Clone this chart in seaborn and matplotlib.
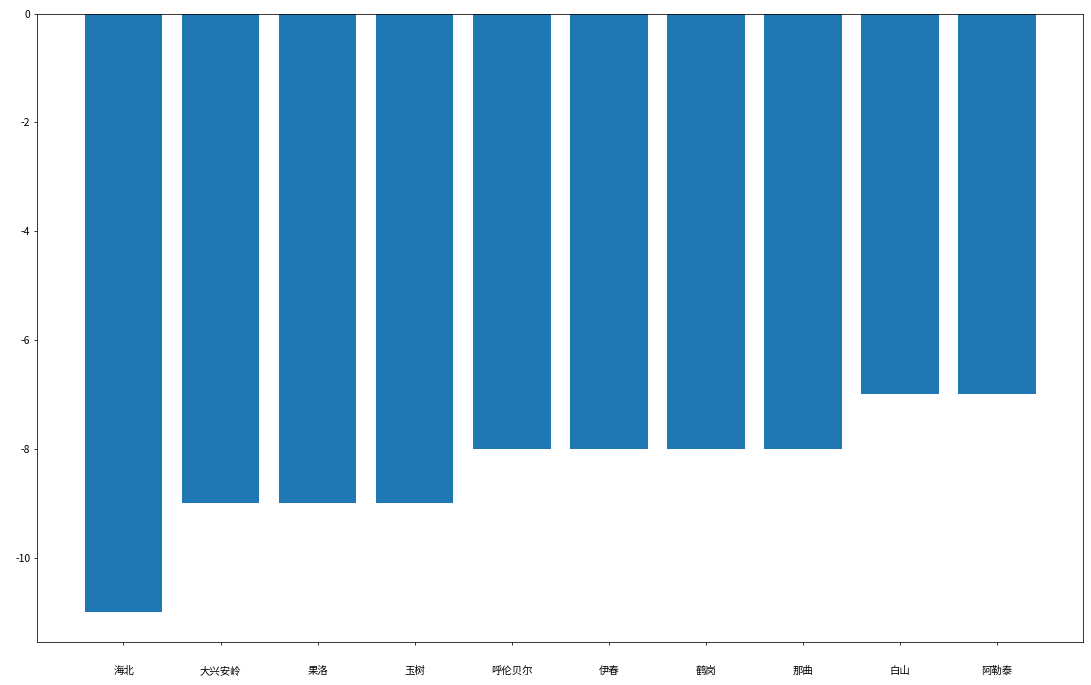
import matplotlib
matplotlib.use("Agg")
import matplotlib.pyplot as plt
import seaborn as sns
import pandas as pd

cities = ["海北", "大兴安岭", "果洛", "玉树", "呼伦贝尔", "伊春", "鹤岗", "那曲", "白山", "阿勒泰"]
temps = [-11, -9, -9, -9, -8, -8, -8, -8, -7, -7]

plt.rcParams["font.family"] = ["Noto Sans CJK SC", "DejaVu Sans"]
plt.rcParams["axes.unicode_minus"] = False

df = pd.DataFrame({"city": cities, "temp": temps})

dpi = 68.2
fig = plt.figure(figsize=(1091 / dpi, 685 / dpi), dpi=dpi)
ax = fig.add_axes([0.034, 0.063, 0.959, 0.917])
sns.barplot(data=df, x="city", y="temp", color="#1f77b4", saturation=1,
            linewidth=0, width=0.8, ax=ax)
ax.set_xlim(-0.89, len(cities) - 1 + 0.89)
ax.set_ylim(-11.55, 0)
ax.set_yticks([0, -2, -4, -6, -8, -10])
ax.set_xlabel("")
ax.set_ylabel("")
ax.tick_params(labelsize=11)
ax.tick_params(axis="x", pad=22)

fig.savefig("out.png", dpi=dpi)
